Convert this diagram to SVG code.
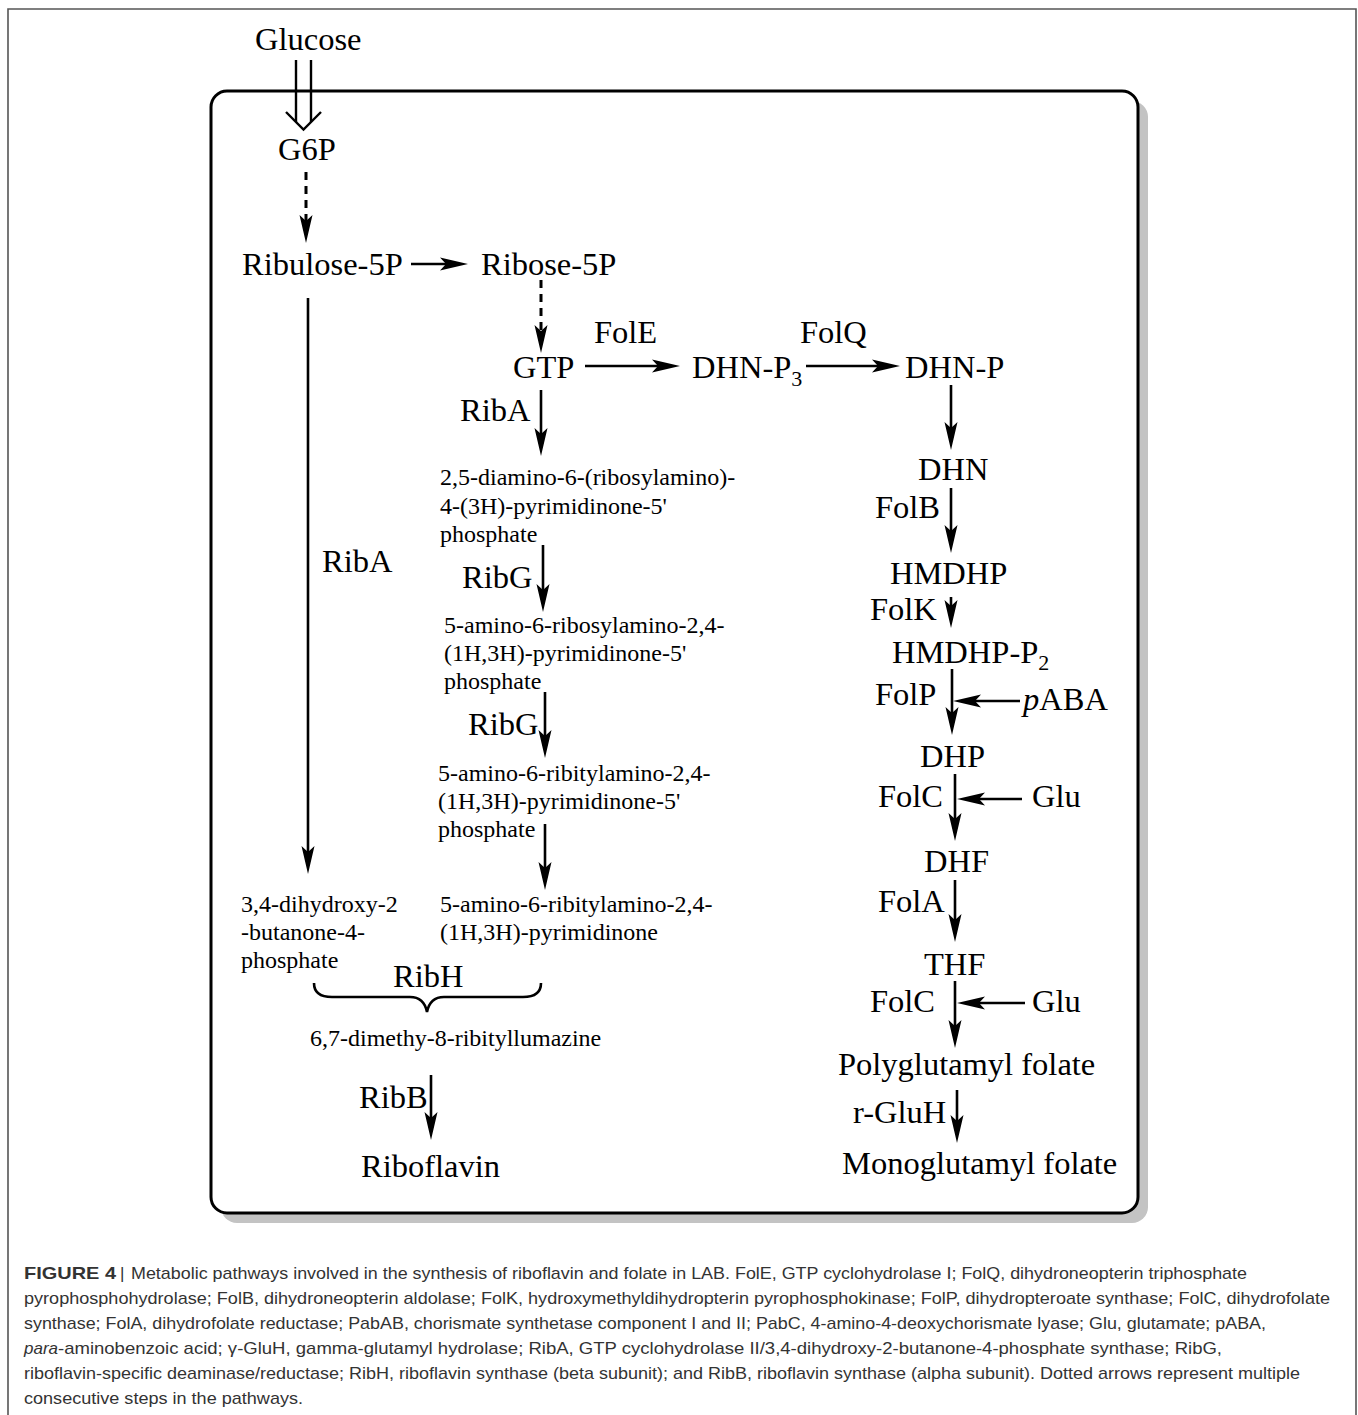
<svg xmlns="http://www.w3.org/2000/svg" width="1358" height="1415" viewBox="0 0 1358 1415">
<style>
.t{font-family:"Liberation Serif","Times New Roman",serif;font-size:32.5px;fill:#000}
.s{font-family:"Liberation Serif","Times New Roman",serif;font-size:24px;fill:#000}
.sub{font-size:22px}
.c{font-family:"Liberation Sans",Arial,sans-serif;font-size:17px;fill:#333}
.cb{font-family:"Liberation Sans",Arial,sans-serif;font-size:17px;font-weight:bold;fill:#333}
.a{stroke:#000;stroke-width:2.6;fill:none;marker-end:url(#ah)}
.d{stroke:#000;stroke-width:3;fill:none;stroke-dasharray:8 6;marker-end:url(#ah)}
</style>
<defs>
<marker id="ah" viewBox="-10 -8 34 16" refX="0" refY="0" markerWidth="34" markerHeight="16" markerUnits="userSpaceOnUse" orient="auto">
<path d="M22,0 L-6,-6.5 L0,0 L-6,6.5 Z" fill="#000"/>
</marker>
</defs>
<rect width="1358" height="1415" fill="#fff"/>
<path d="M8,1415 L8,9 L1356,9 L1356,1415" fill="none" stroke="#555" stroke-width="1.6"/>
<rect x="221" y="101" width="927" height="1122" rx="16" fill="#c3c3c3"/>
<rect x="211" y="91" width="927" height="1122" rx="16" fill="#fff" stroke="#000" stroke-width="3"/>

<g id="connectors">
<line x1="296" y1="60" x2="296" y2="122" stroke="#000" stroke-width="2.4"/>
<line x1="311" y1="60" x2="311" y2="122" stroke="#000" stroke-width="2.4"/>
<polyline points="286,112 303.5,129.5 321,112" fill="none" stroke="#000" stroke-width="2.4"/>
<line class="d" x1="306" y1="172" x2="306" y2="221"/>
<line class="a" x1="411" y1="264" x2="446" y2="264"/>
<line class="d" x1="541" y1="280" x2="541" y2="331"/>
<line class="a" x1="308" y1="298" x2="308" y2="852"/>
<line class="a" x1="585" y1="366" x2="658" y2="366"/>
<line class="a" x1="806" y1="366" x2="878" y2="366"/>
<line class="a" x1="541" y1="390" x2="541" y2="434"/>
<line class="a" x1="543" y1="545" x2="543" y2="590"/>
<line class="a" x1="545" y1="692" x2="545" y2="736"/>
<line class="a" x1="545" y1="824" x2="545" y2="868"/>
<path d="M314,983 Q314,997 332,997 L410,997 Q424,997 427,1012 Q430,997 444,997 L523,997 Q541,997 541,983" fill="none" stroke="#000" stroke-width="2.6"/>
<line class="a" x1="431" y1="1075" x2="431" y2="1118"/>
<line class="a" x1="951" y1="385" x2="951" y2="428"/>
<line class="a" x1="951" y1="488" x2="951" y2="531"/>
<line class="a" x1="951" y1="597" x2="951" y2="606"/>
<line class="a" x1="952" y1="669" x2="952" y2="713"/>
<line class="a" x1="1020" y1="701" x2="975" y2="701"/>
<line class="a" x1="955" y1="774" x2="955" y2="819"/>
<line class="a" x1="1022" y1="799" x2="979" y2="799"/>
<line class="a" x1="955" y1="880" x2="955" y2="920"/>
<line class="a" x1="955" y1="981" x2="955" y2="1026"/>
<line class="a" x1="1025" y1="1003" x2="979" y2="1003"/>
<line class="a" x1="957" y1="1090" x2="957" y2="1121"/>
</g>

<g id="glucose"><text class="t" x="255" y="50">Glucose</text></g>
<g id="g6p"><text class="t" x="278" y="160">G6P</text></g>
<g id="ribulose5p"><text class="t" x="242" y="275">Ribulose-5P</text></g>
<g id="ribose5p"><text class="t" x="481" y="275">Ribose-5P</text></g>
<g id="riba-left"><text class="t" x="322" y="572">RibA</text></g>
<g id="gtp"><text class="t" x="513" y="378">GTP</text></g>
<g id="fole"><text class="t" x="594" y="343">FolE</text></g>
<g id="dhnp3"><text class="t" x="692" y="378">DHN-P<tspan class="sub" dy="8">3</tspan></text></g>
<g id="folq"><text class="t" x="800" y="343">FolQ</text></g>
<g id="dhnp"><text class="t" x="905" y="378">DHN-P</text></g>
<g id="riba"><text class="t" x="460" y="421">RibA</text></g>
<g id="diamino">
<text class="s" x="440" y="485">2,5-diamino-6-(ribosylamino)-</text>
<text class="s" x="440" y="514">4-(3H)-pyrimidinone-5'</text>
<text class="s" x="440" y="542">phosphate</text>
</g>
<g id="ribg1"><text class="t" x="462" y="588">RibG</text></g>
<g id="ribosylamino">
<text class="s" x="444" y="633">5-amino-6-ribosylamino-2,4-</text>
<text class="s" x="444" y="661">(1H,3H)-pyrimidinone-5'</text>
<text class="s" x="444" y="689">phosphate</text>
</g>
<g id="ribg2"><text class="t" x="468" y="735">RibG</text></g>
<g id="ribitylamino-p">
<text class="s" x="438" y="781">5-amino-6-ribitylamino-2,4-</text>
<text class="s" x="438" y="809">(1H,3H)-pyrimidinone-5'</text>
<text class="s" x="438" y="837">phosphate</text>
</g>
<g id="ribitylamino">
<text class="s" x="440" y="912">5-amino-6-ribitylamino-2,4-</text>
<text class="s" x="440" y="940">(1H,3H)-pyrimidinone</text>
</g>
<g id="dhbp">
<text class="s" x="241" y="912">3,4-dihydroxy-2</text>
<text class="s" x="241" y="940">-butanone-4-</text>
<text class="s" x="241" y="968">phosphate</text>
</g>
<g id="ribh"><text class="t" x="393" y="987">RibH</text></g>
<g id="lumazine"><text class="s" x="310" y="1046">6,7-dimethy-8-ribityllumazine</text></g>
<g id="ribb"><text class="t" x="359" y="1108">RibB</text></g>
<g id="riboflavin"><text class="t" x="361" y="1177">Riboflavin</text></g>

<g id="dhn"><text class="t" x="918" y="480">DHN</text></g>
<g id="folb"><text class="t" x="875" y="518">FolB</text></g>
<g id="hmdhp"><text class="t" x="890" y="584">HMDHP</text></g>
<g id="folk"><text class="t" x="870" y="620">FolK</text></g>
<g id="hmdhpp2"><text class="t" x="892" y="663">HMDHP-P<tspan class="sub" dy="7">2</tspan></text></g>
<g id="folp"><text class="t" x="875" y="705">FolP</text></g>
<g id="paba"><text class="t" x="1023" y="710"><tspan font-style="italic">p</tspan>ABA</text></g>
<g id="dhp"><text class="t" x="920" y="767">DHP</text></g>
<g id="folc1"><text class="t" x="878" y="807">FolC</text></g>
<g id="glu1"><text class="t" x="1032" y="807">Glu</text></g>
<g id="dhf"><text class="t" x="924" y="872">DHF</text></g>
<g id="fola"><text class="t" x="878" y="912">FolA</text></g>
<g id="thf"><text class="t" x="924" y="975">THF</text></g>
<g id="folc2"><text class="t" x="870" y="1012">FolC</text></g>
<g id="glu2"><text class="t" x="1032" y="1012">Glu</text></g>
<g id="polyglutamyl"><text class="t" x="838" y="1075">Polyglutamyl folate</text></g>
<g id="rgluh"><text class="t" x="853" y="1123">r-GluH</text></g>
<g id="monoglutamyl"><text class="t" x="842" y="1174">Monoglutamyl folate</text></g>

<g id="caption">
<text class="cb" x="24" y="1279" textLength="92" lengthAdjust="spacingAndGlyphs">FIGURE 4</text>
<text class="c" x="120" y="1279">|</text>
<text class="c" x="131" y="1279" textLength="1116" lengthAdjust="spacingAndGlyphs">Metabolic pathways involved in the synthesis of riboflavin and folate in LAB. FolE, GTP cyclohydrolase I; FolQ, dihydroneopterin triphosphate</text>
<text class="c" x="24" y="1304" textLength="1306" lengthAdjust="spacingAndGlyphs">pyrophosphohydrolase; FolB, dihydroneopterin aldolase; FolK, hydroxymethyldihydropterin pyrophosphokinase; FolP, dihydropteroate synthase; FolC, dihydrofolate</text>
<text class="c" x="24" y="1329" textLength="1242" lengthAdjust="spacingAndGlyphs">synthase; FolA, dihydrofolate reductase; PabAB, chorismate synthetase component I and II; PabC, 4-amino-4-deoxychorismate lyase; Glu, glutamate; pABA,</text>
<text class="c" x="24" y="1354" font-style="italic">para</text>
<text class="c" x="58" y="1354" textLength="1164" lengthAdjust="spacingAndGlyphs">-aminobenzoic acid; γ-GluH, gamma-glutamyl hydrolase; RibA, GTP cyclohydrolase II/3,4-dihydroxy-2-butanone-4-phosphate synthase; RibG,</text>
<text class="c" x="24" y="1379" textLength="1276" lengthAdjust="spacingAndGlyphs">riboflavin-specific deaminase/reductase; RibH, riboflavin synthase (beta subunit); and RibB, riboflavin synthase (alpha subunit). Dotted arrows represent multiple</text>
<text class="c" x="24" y="1404" textLength="279" lengthAdjust="spacingAndGlyphs">consecutive steps in the pathways.</text>
</g>
</svg>
